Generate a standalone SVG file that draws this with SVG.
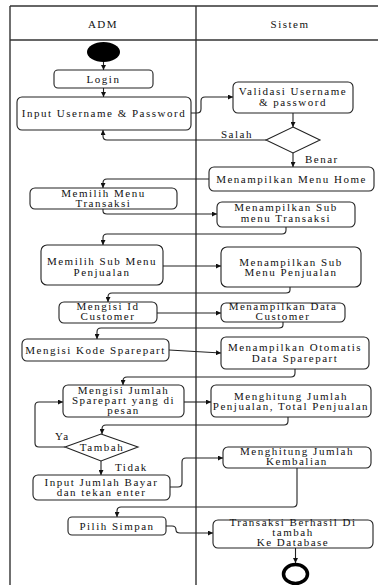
<svg xmlns="http://www.w3.org/2000/svg" width="378" height="585" viewBox="0 0 378 585">
<style>
.box{fill:#fff;stroke:#222;stroke-width:1.1}
.t{font-family:"Liberation Serif","Times New Roman",serif;font-size:11px;letter-spacing:1.5px;fill:#111;text-anchor:middle}
.lbl{font-family:"Liberation Serif","Times New Roman",serif;font-size:11px;letter-spacing:1.5px;fill:#111}
.c{fill:none;stroke:#222;stroke-width:1.1}
.frame{stroke:#333;stroke-width:1.4;fill:none}
</style>
<defs>
<marker id="ah" viewBox="0 0 10 10" refX="10" refY="5" markerWidth="5" markerHeight="5" orient="auto" markerUnits="userSpaceOnUse">
<path d="M0,0 L10,5 L0,10 z" fill="#111"/>
</marker>
</defs>
<rect width="378" height="585" fill="#fff"/>
<g id="frame">
<line class="frame" x1="10" y1="6" x2="378" y2="6"/>
<line class="frame" x1="10" y1="40" x2="378" y2="40"/>
<line class="frame" x1="10" y1="6" x2="10" y2="585"/>
<line class="frame" x1="196" y1="6" x2="196" y2="585"/>
<text class="t" x="103" y="28">ADM</text>
<text class="t" x="290" y="28">Sistem</text>
</g>
<g id="connectors" class="c">
<path marker-end="url(#ah)" d="M103.5,62 V70"/>
<path marker-end="url(#ah)" d="M103.5,88 V97"/>
<path marker-end="url(#ah)" d="M191,113 H197 Q201,113 201,109 V101 Q201,97 205,97 H233"/>
<path marker-end="url(#ah)" d="M293,113 V127"/>
<path marker-end="url(#ah)" d="M266,140 H107 Q103,140 103,136 V130"/>
<path marker-end="url(#ah)" d="M293,153 V167"/>
<path marker-end="url(#ah)" d="M209,179 H107 Q103,179 103,183 V188"/>
<path marker-end="url(#ah)" d="M103,209 V211 Q103,214 107,214 H217"/>
<path marker-end="url(#ah)" d="M286,227 V230 Q286,234 282,234 H107 Q103,234 103,238 V245"/>
<path marker-end="url(#ah)" d="M163,266 H221"/>
<path marker-end="url(#ah)" d="M290,287 V290 Q290,293 286,293 H112 Q108,293 108,297 V302"/>
<path marker-end="url(#ah)" d="M157,313 H221"/>
<path marker-end="url(#ah)" d="M283,322 V325 Q283,328 279,328 H101 Q97,328 97,332 V339"/>
<path marker-end="url(#ah)" d="M169,350 L221,353"/>
<path marker-end="url(#ah)" d="M295,369 V373 Q295,377 291,377 H127 Q123,377 123,381 V385"/>
<path marker-end="url(#ah)" d="M184,402 H211"/>
<path marker-end="url(#ah)" d="M288,417 V421 Q288,425 284,425 H106 Q102,425 102,429 V434"/>
<path marker-end="url(#ah)" d="M65,447 H39 Q35,447 35,443 V406 Q35,402 39,402 H63"/>
<path marker-end="url(#ah)" d="M101,461 V475"/>
<path marker-end="url(#ah)" d="M170,487 H178 Q182,487 182,483 V462 Q182,458 186,458 H223"/>
<path marker-end="url(#ah)" d="M297,468 V503 Q297,507 293,507 H121 Q117,507 117,511 V517"/>
<path marker-end="url(#ah)" d="M166,526 H172 Q176,526 176,530 Q176,533 180,533 H213"/>
<path marker-end="url(#ah)" d="M295.5,548 V563"/>
</g>
<g id="labels">
<text class="lbl" x="221" y="138">Salah</text>
<text class="lbl" x="305" y="163">Benar</text>
<text class="lbl" x="55" y="440">Ya</text>
<text class="lbl" x="115" y="471">Tidak</text>
</g>
<g id="start"><ellipse cx="103.5" cy="52" rx="16.5" ry="10" fill="#000"/></g>
<g id="login"><rect class="box" x="54" y="70" width="99" height="18" rx="4"/><text class="t" x="103.5" y="83">Login</text></g>
<g id="input"><rect class="box" x="17" y="97" width="174" height="33" rx="5"/><text class="t" x="104" y="117">Input Username &amp; Password</text></g>
<g id="validasi"><rect class="box" x="233" y="82" width="120" height="31" rx="5"/><text class="t" x="293" y="95">Validasi Username</text><text class="t" x="293" y="106">&amp; password</text></g>
<g id="decision1"><polygon class="box" points="293,127 320,140 293,153 266,140"/></g>
<g id="menuhome"><rect class="box" x="209" y="167" width="165" height="24" rx="5"/><text class="t" x="291.5" y="183">Menampilkan Menu Home</text></g>
<g id="memilihmenu"><rect class="box" x="30" y="188" width="147" height="21" rx="5"/><text class="t" x="103.5" y="197">Memilih Menu</text><text class="t" x="103.5" y="207">Transaksi</text></g>
<g id="submenutrans"><rect class="box" x="217" y="202" width="138" height="25" rx="5"/><text class="t" x="286" y="211">Menampilkan Sub</text><text class="t" x="286" y="222">menu Transaksi</text></g>
<g id="memilihsub"><rect class="box" x="41" y="245" width="122" height="40" rx="6"/><text class="t" x="102" y="265">Memilih Sub Menu</text><text class="t" x="102" y="276">Penjualan</text></g>
<g id="submenupenj"><rect class="box" x="221" y="247" width="140" height="40" rx="6"/><text class="t" x="291" y="266">Menampilkan Sub</text><text class="t" x="291" y="276">Menu Penjualan</text></g>
<g id="mengisiid"><rect class="box" x="59" y="302" width="98" height="21" rx="5"/><text class="t" x="108" y="310">Mengisi Id</text><text class="t" x="108" y="320">Customer</text></g>
<g id="datacustomer"><rect class="box" x="221" y="303" width="124" height="19" rx="5"/><text class="t" x="283" y="310">Menampilkan Data</text><text class="t" x="283" y="320">Customer</text></g>
<g id="kodesparepart"><rect class="box" x="22" y="339" width="147" height="22" rx="5"/><text class="t" x="95.5" y="354">Mengisi Kode Sparepart</text></g>
<g id="otomatis"><rect class="box" x="221" y="337" width="148" height="32" rx="5"/><text class="t" x="295" y="351">Menampilkan Otomatis</text><text class="t" x="295" y="362">Data Sparepart</text></g>
<g id="mengisijumlah"><rect class="box" x="63" y="385" width="121" height="32" rx="5"/><text class="t" x="123.5" y="394">Mengisi Jumlah</text><text class="t" x="123.5" y="404">Sparepart yang di</text><text class="t" x="123.5" y="414">pesan</text></g>
<g id="menghitungpenj"><rect class="box" x="211" y="385" width="160" height="32" rx="5"/><text class="t" x="291" y="400">Menghitung Jumlah</text><text class="t" x="291" y="410">Penjualan, Total Penjualan</text></g>
<g id="tambah"><polygon class="box" points="101,434 138,447 101,461 65,447"/><text class="t" x="102" y="451">Tambah</text></g>
<g id="inputbayar"><rect class="box" x="33" y="475" width="137" height="25" rx="5"/><text class="t" x="101.5" y="486">Input Jumlah Bayar</text><text class="t" x="101.5" y="496">dan tekan enter</text></g>
<g id="kembalian"><rect class="box" x="223" y="447" width="148" height="21" rx="5"/><text class="t" x="297" y="455">Menghitung Jumlah</text><text class="t" x="297" y="465">Kembalian</text></g>
<g id="pilihsimpan"><rect class="box" x="68" y="517" width="98" height="18" rx="4"/><text class="t" x="117" y="530">Pilih Simpan</text></g>
<g id="transaksiberhasil"><rect class="box" x="213" y="520" width="160" height="28" rx="5"/><text class="t" x="293" y="526">Transaksi Berhasil Di</text><text class="t" x="293" y="536">tambah</text><text class="t" x="293" y="546">Ke Database</text></g>
<g id="end"><ellipse cx="295.5" cy="574" rx="12" ry="9.5" fill="none" stroke="#000" stroke-width="3.5"/></g>
</svg>
